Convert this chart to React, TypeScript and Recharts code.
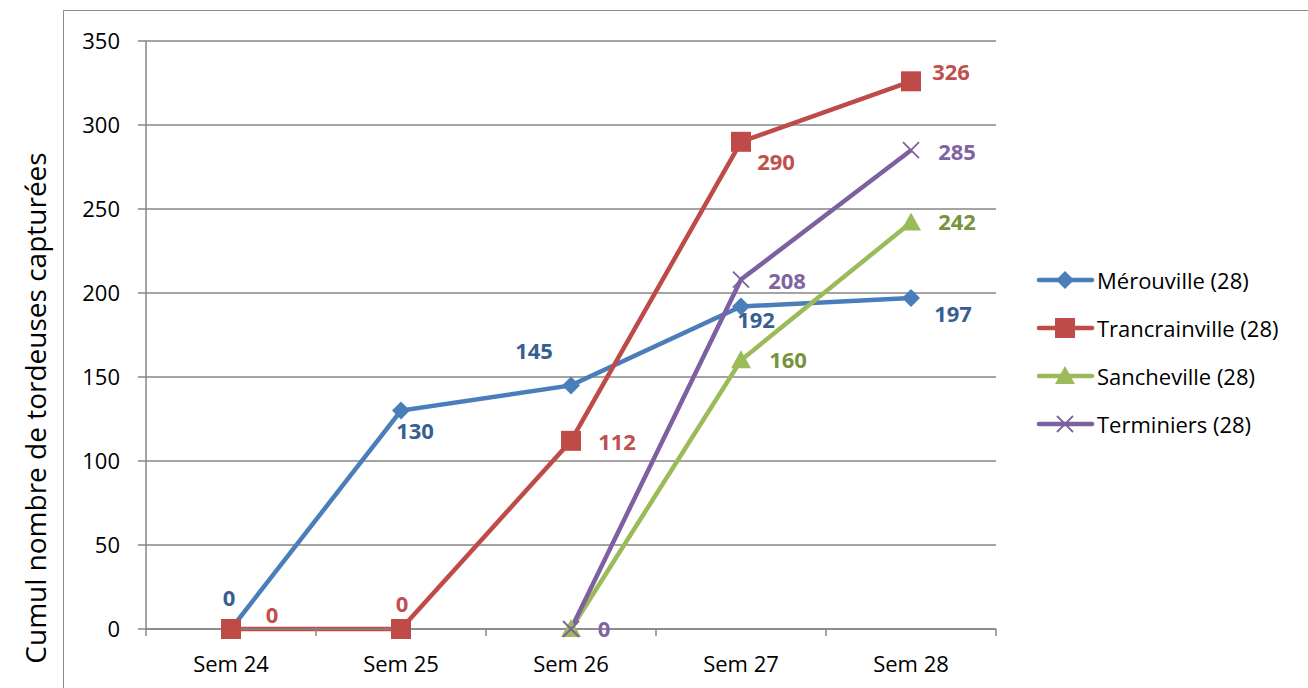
import React from 'react';
import { LineChart, Line, XAxis, YAxis, CartesianGrid, LabelList } from 'recharts';

const semaines = ['Sem 24', 'Sem 25', 'Sem 26', 'Sem 27', 'Sem 28'];
const merouville = [0, 130, 145, 192, 197];
const trancrainville = [0, 0, 112, 290, 326];
const sancheville = [null, null, 0, 160, 242];
const terminiers = [null, null, 0, 208, 285];
const yTicks = [0, 50, 100, 150, 200, 250, 300, 350];

// label offsets (dx, dy) from each point, like the excel labels
const merouvilleLabels = [[-2, -31], [14, 20], [-37, -34], [15, 14], [42, 16]];
const trancrainvilleLabels = [[41, -14], [1, -25], [46, 1], [35, 20], [40, -9]];
const sanchevilleLabels = [null, null, null, [47, 0], [46, 0]];
const terminiersLabels = [null, null, [33, 0], [46, 2], [46, 2]];

const FONT = '"Open Sans", sans-serif';
const GRID = '#868686';

const chartData = semaines.map((s, i) => ({
    sem: s,
    merouville: merouville[i],
    trancrainville: trancrainville[i],
    sancheville: sancheville[i],
    terminiers: terminiers[i],
}));

const series = [
    { key: 'merouville', name: 'Mérouville (28)', color: '#4a7ebb', labelColor: '#376092', marker: 'diamond', offsets: merouvilleLabels },
    { key: 'trancrainville', name: 'Trancrainville (28)', color: '#be4b48', labelColor: '#c0504d', marker: 'square', offsets: trancrainvilleLabels },
    { key: 'sancheville', name: 'Sancheville (28)', color: '#9bbb59', labelColor: '#77933c', marker: 'triangle', offsets: sanchevilleLabels },
    { key: 'terminiers', name: 'Terminiers (28)', color: '#7d60a0', labelColor: '#8064a2', marker: 'cross', offsets: terminiersLabels },
];

function Marker({ kind, cx, cy, color }: { kind: string; cx: number; cy: number; color: string }) {
    if (cx == null || cy == null) return null;
    if (kind === 'diamond') {
        return <path d={`M${cx},${cy - 9} L${cx + 9},${cy} L${cx},${cy + 9} L${cx - 9},${cy} Z`} fill={color} />;
    }
    if (kind === 'square') {
        return <rect x={cx - 10} y={cy - 10} width={20} height={20} fill={color} />;
    }
    if (kind === 'triangle') {
        return <path d={`M${cx},${cy - 10} L${cx + 10},${cy + 8} L${cx - 10},${cy + 8} Z`} fill={color} />;
    }
    return (
        <g stroke={color} strokeWidth={1.8}>
            <line x1={cx - 8} y1={cy - 8} x2={cx + 8} y2={cy + 8} />
            <line x1={cx - 8} y1={cy + 8} x2={cx + 8} y2={cy - 8} />
        </g>
    );
}

const makeLabel = (color: string, offsets: (number[] | null)[]) => (props: any) => {
    const { x, y, value, index } = props;
    if (value == null || x == null || y == null) return null;
    const off = offsets[index];
    if (!off) return null;
    return (
        <text
            x={x + off[0]}
            y={y + off[1]}
            dy="0.36em"
            textAnchor="middle"
            fill={color}
            fontFamily={FONT}
            fontSize={22}
            fontWeight={700}
        >
            {value}
        </text>
    );
};

const XTick = (props: any) => {
    const { x, y, payload, index } = props;
    const half = 85;
    return (
        <g>
            <line x1={x - half} y1={y - 8} x2={x - half} y2={y - 1} stroke={GRID} strokeWidth={1.5} />
            {index === semaines.length - 1 && (
                <line x1={x + half} y1={y - 8} x2={x + half} y2={y - 1} stroke={GRID} strokeWidth={1.5} />
            )}
            <text x={x} y={y + 35} textAnchor="middle" fill="#000" fontFamily={FONT} fontSize={22}>
                {payload.value}
            </text>
        </g>
    );
};

function LegendBox() {
    return (
        <div style={{ position: 'absolute', left: 1035, top: 256 }}>
            {series.map((s) => (
                <div key={s.key} style={{ display: 'flex', alignItems: 'center', height: 48 }}>
                    <svg width={60} height={30}>
                        <line x1={4} y1={15} x2={57} y2={15} stroke={s.color} strokeWidth={4.5} strokeLinecap="round" />
                        <Marker kind={s.marker} cx={30} cy={15} color={s.color} />
                    </svg>
                    <span style={{ fontFamily: FONT, fontSize: 22, color: '#000', marginLeft: 2 }}>{s.name}</span>
                </div>
            ))}
        </div>
    );
}

export default function App() {
    return (
        <div style={{ position: 'absolute', left: 0, top: 0, width: 1308, height: 688, background: '#fff', overflow: 'hidden' }}>
            <div
                style={{
                    position: 'absolute',
                    left: 63,
                    top: 10,
                    width: 1400,
                    height: 800,
                    borderLeft: '1.5px solid #8c8c8c',
                    borderTop: '1.5px solid #8c8c8c',
                }}
            />
            <div
                style={{
                    position: 'absolute',
                    left: 35,
                    top: 408,
                    transform: 'translate(-50%, -50%) rotate(-90deg)',
                    whiteSpace: 'nowrap',
                    fontFamily: FONT,
                    fontSize: 28,
                    color: '#000',
                }}
            >
                Cumul nombre de tordeuses capturées
            </div>
            <div style={{ position: 'absolute', left: 0, top: 0 }}>
                <LineChart width={1308} height={688} data={chartData} margin={{ top: 41, right: 312, bottom: 0, left: 0 }}>
                    <CartesianGrid vertical={false} stroke={GRID} strokeWidth={1.5} />
                    <XAxis
                        dataKey="sem"
                        scale="point"
                        padding={{ left: 85, right: 85 }}
                        height={59}
                        axisLine={{ stroke: GRID, strokeWidth: 1.5 }}
                        tickLine={false}
                        tick={<XTick />}
                        interval={0}
                    />
                    <YAxis
                        width={146}
                        domain={[0, 350]}
                        ticks={yTicks}
                        interval={0}
                        tickSize={8}
                        tickMargin={18}
                        axisLine={{ stroke: GRID, strokeWidth: 1.5 }}
                        tickLine={{ stroke: GRID, strokeWidth: 1.5 }}
                        tick={{ fill: '#000', fontFamily: FONT, fontSize: 22 }}
                    />
                    {series.map((s) => (
                        <Line
                            key={s.key}
                            dataKey={s.key}
                            name={s.name}
                            type="linear"
                            stroke={s.color}
                            strokeWidth={4.5}
                            isAnimationActive={false}
                            dot={(p: any) => <Marker key={`${s.key}-${p.index}`} kind={s.marker} cx={p.cx} cy={p.cy} color={s.color} />}
                            activeDot={false}
                        >
                            <LabelList dataKey={s.key} content={makeLabel(s.labelColor, s.offsets)} />
                        </Line>
                    ))}
                </LineChart>
            </div>
            <LegendBox />
        </div>
    );
}
